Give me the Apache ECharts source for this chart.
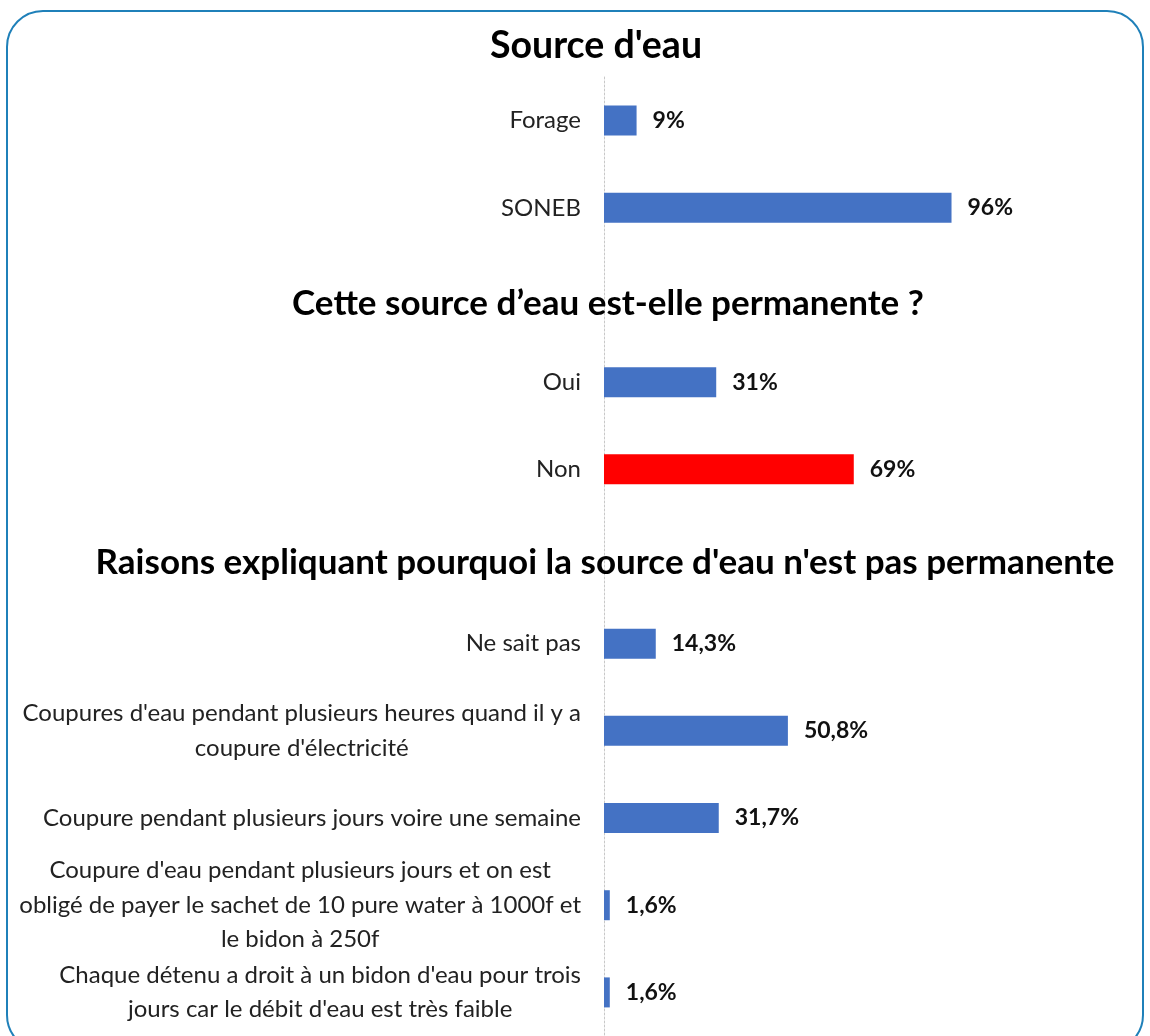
<!DOCTYPE html>
<html>
<head>
<meta charset="utf-8">
<script src="https://cdn.jsdelivr.net/npm/echarts@6/dist/echarts.min.js"></script>
<style>
html,body{margin:0;padding:0;background:#fff;}
#chart{width:1150px;height:1036px;}
</style>
</head>
<body>
<div id="chart"></div>
<script>
// ---- Data ----
const sectionTitles = ["Source d'eau", "Cette source d’eau est-elle permanente ?", "Raisons expliquant pourquoi la source d'eau n'est pas permanente"];
const sourceCats = ["Forage", "SONEB"];
const sourceValues = [9, 96];
const permCats = ["Oui", "Non"];
const permValues = [31, 69];
const raisonCats = [
  "Ne sait pas",
  "Coupures d'eau pendant plusieurs heures quand il y a\ncoupure d'électricité",
  "Coupure pendant plusieurs jours voire une semaine",
  "Coupure d'eau pendant plusieurs jours et on est\nobligé de payer le sachet de 10 pure water à 1000f et\nle bidon à 250f",
  "Chaque détenu a droit à un bidon d'eau pour trois\njours car le débit d'eau est très faible"
];
const raisonValues = [14.3, 50.8, 31.7, 1.6, 1.6];
const highlightCats = ["Non"];

// Combined axis: one blank row between sections (used by section titles)
const allCats = [...sourceCats, " ", ...permCats, "  ", ...raisonCats];
const allValues = [...sourceValues, null, ...permValues, null, ...raisonValues];

const FONT = "Lato";
const chart = echarts.init(document.getElementById('chart'));

const titleStyle = size => ({fontFamily: FONT, fontWeight: 'bold', fontSize: size, color: '#000'});

chart.setOption({
  backgroundColor: '#fff',
  animation: false,
  graphic: [{
    type: 'rect',
    shape: {x: 7, y: 11, width: 1136, height: 1040, r: 36},
    style: {fill: 'none', stroke: '#1f80b9', lineWidth: 2},
    z: -1
  }],
  title: [
    {text: sectionTitles[0], left: 591, top: 22, textAlign: 'center', textStyle: titleStyle(37.5)},
    {text: sectionTitles[1], left: 603, top: 281, textAlign: 'center', textStyle: titleStyle(35)},
    {text: sectionTitles[2], left: 600, top: 540, textAlign: 'center', textStyle: titleStyle(35)}
  ],
  grid: {left: 604, width: 362, top: 77, height: 960, containLabel: false},
  xAxis: {type: 'value', min: 0, max: 100, show: false},
  yAxis: {
    type: 'category',
    inverse: true,
    data: allCats,
    axisLine: {show: true, lineStyle: {color: '#c8c8c8', width: 1, type: [2, 2]}},
    axisTick: {show: false},
    axisLabel: {
      margin: 23,
      formatter: v => v.trim() === '' ? '' : v.split('\n').map(l => '{c|' + l + '}').join('\n'),
      rich: {c: {align: 'center', fontFamily: FONT, fontSize: 24, lineHeight: 34.5, color: '#222'}}
    },
    splitLine: {show: false}
  },
  series: [{
    type: 'bar',
    barWidth: 30,
    data: allValues,
    itemStyle: {color: p => highlightCats.includes(p.name) ? '#ff0000' : '#4472c4'},
    label: {
      show: true,
      position: 'right',
      distance: 16,
      fontFamily: FONT,
      fontWeight: 'bold',
      fontSize: 23,
      color: '#111',
      formatter: p => String(p.value).replace('.', ',') + '%'
    }
  }]
});
</script>
</body>
</html>
